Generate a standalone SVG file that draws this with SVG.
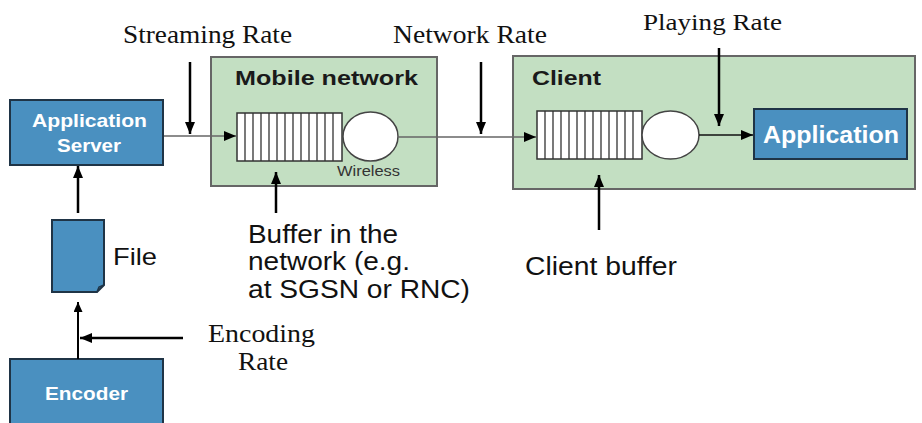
<svg xmlns="http://www.w3.org/2000/svg" width="922" height="423" viewBox="0 0 922 423">
  <defs>
    <marker id="head" viewBox="0 0 12 10" refX="12" refY="5" markerWidth="12" markerHeight="10" markerUnits="userSpaceOnUse" orient="auto">
      <path d="M0,0 L12,5 L0,10 Z" fill="#000"/>
    </marker>
    <marker id="headS" viewBox="0 0 10 9" refX="10" refY="4.5" markerWidth="10" markerHeight="9" markerUnits="userSpaceOnUse" orient="auto">
      <path d="M0,0 L10,4.5 L0,9 Z" fill="#000"/>
    </marker>
  </defs>
  <style>
    .blue { fill: #4a90c0; stroke: #1f3446; stroke-width: 2; }
    .green { fill: #c3dfc2; stroke: #666; stroke-width: 2; }
    .buf { fill: #fff; stroke: #333; stroke-width: 1.5; }
    .cells { stroke: #333; stroke-width: 1.3; fill: none; }
    .disc { fill: #fff; stroke: #444; stroke-width: 1.5; }
    .wlab { font-family: "Liberation Sans", Arial, sans-serif; font-weight: bold; fill: #fff; }
    .blab { font-family: "Liberation Sans", Arial, sans-serif; font-weight: bold; fill: #1a1a1a; }
    .sans { font-family: "Liberation Sans", Arial, sans-serif; fill: #111; }
    .serif { font-family: "Liberation Serif", "Times New Roman", serif; fill: #111; }
    .rate { stroke: #000; stroke-width: 2.5; fill: none; marker-end: url(#head); }
    .data { stroke: #666; stroke-width: 1.5; fill: none; }
    .flow { stroke: #000; stroke-width: 2; fill: none; marker-end: url(#headS); }
  </style>

  <!-- rate labels -->
  <g id="labels">
    <text class="serif" x="123" y="43" font-size="25" textLength="169" lengthAdjust="spacingAndGlyphs">Streaming Rate</text>
    <text class="serif" x="393" y="43" font-size="25" textLength="154" lengthAdjust="spacingAndGlyphs">Network Rate</text>
    <text class="serif" x="643" y="30" font-size="24" textLength="139" lengthAdjust="spacingAndGlyphs">Playing Rate</text>
    <text class="serif" x="208" y="342" font-size="25" textLength="107" lengthAdjust="spacingAndGlyphs">Encoding</text>
    <text class="serif" x="238" y="370" font-size="25" textLength="50" lengthAdjust="spacingAndGlyphs">Rate</text>
    <text class="sans" x="248" y="243" font-size="25" textLength="150" lengthAdjust="spacingAndGlyphs">Buffer in the</text>
    <text class="sans" x="248" y="270" font-size="25" textLength="162" lengthAdjust="spacingAndGlyphs">network (e.g.</text>
    <text class="sans" x="248" y="298" font-size="25" textLength="222" lengthAdjust="spacingAndGlyphs">at SGSN or RNC)</text>
    <text class="sans" x="525" y="275" font-size="25" textLength="152" lengthAdjust="spacingAndGlyphs">Client buffer</text>
  </g>

  <!-- mobile network -->
  <g id="mobile-network">
    <rect class="green" x="211" y="57" width="226" height="129"/>
    <text class="blab" x="235" y="85" font-size="21" textLength="183" lengthAdjust="spacingAndGlyphs">Mobile network</text>
    <rect class="buf" x="237" y="113" width="105" height="48"/>
    <path class="cells" d="M245,113V161M253,113V161M261,113V161M269,113V161M277,113V161M285,113V161M293,113V161M301,113V161M309,113V161M317,113V161M325,113V161M333,113V161"/>
    <ellipse class="disc" cx="370.5" cy="136.5" rx="27.5" ry="24.5"/>
    <text x="337" y="176" font-family="Liberation Sans, Arial, sans-serif" font-size="14" fill="#333" textLength="63" lengthAdjust="spacingAndGlyphs">Wireless</text>
  </g>

  <!-- client -->
  <g id="client">
    <rect class="green" x="513" y="56" width="402" height="133"/>
    <text class="blab" x="532" y="85" font-size="21" textLength="69" lengthAdjust="spacingAndGlyphs">Client</text>
    <rect class="buf" x="537" y="111" width="105" height="48"/>
    <path class="cells" d="M545,111V159M553,111V159M561,111V159M569,111V159M577,111V159M585,111V159M593,111V159M601,111V159M609,111V159M617,111V159M625,111V159M633,111V159"/>
    <ellipse class="disc" cx="670.5" cy="135" rx="28.5" ry="24"/>
  </g>

  <g id="application">
    <rect class="blue" x="754" y="109" width="153" height="50"/>
    <text class="wlab" x="763" y="143" font-size="23" textLength="136" lengthAdjust="spacingAndGlyphs">Application</text>
  </g>

  <g id="application-server">
    <rect class="blue" x="10" y="100" width="153" height="65"/>
    <text class="wlab" x="32" y="127" font-size="19" textLength="115" lengthAdjust="spacingAndGlyphs">Application</text>
    <text class="wlab" x="57" y="152" font-size="19" textLength="64" lengthAdjust="spacingAndGlyphs">Server</text>
  </g>

  <g id="file">
    <path d="M52,220 H104 V285 L97,292 H52 Z" fill="#4a90c0" stroke="#1f3446" stroke-width="2"/>
    <path d="M97,292 L99,287 L104,285" fill="none" stroke="#1f3446" stroke-width="1.5"/>
    <text class="sans" x="113" y="265" font-size="24" textLength="44" lengthAdjust="spacingAndGlyphs">File</text>
  </g>

  <g id="encoder">
    <rect class="blue" x="10" y="359" width="153" height="70"/>
    <text class="wlab" x="45" y="400" font-size="19" textLength="83" lengthAdjust="spacingAndGlyphs">Encoder</text>
  </g>

  <!-- connectors -->
  <g id="connectors">
    <!-- data path -->
    <line class="data" x1="164" y1="136" x2="236" y2="136" marker-end="url(#head)"/>
    <line class="data" x1="398" y1="137" x2="536" y2="137" marker-end="url(#head)"/>
    <line x1="699" y1="135" x2="753" y2="135" stroke="#111" stroke-width="1.5" marker-end="url(#head)"/>
    <!-- rate pointers -->
    <line class="rate" x1="190" y1="62" x2="190" y2="134"/>
    <line class="rate" x1="481" y1="62" x2="481" y2="134"/>
    <line class="rate" x1="719" y1="48" x2="719" y2="126"/>
    <line class="rate" x1="276" y1="213" x2="276" y2="172"/>
    <line class="rate" x1="599" y1="230" x2="599" y2="175"/>
    <!-- file chain -->
    <line class="rate" x1="78" y1="213" x2="78" y2="166"/>
    <line class="flow" x1="78" y1="359" x2="78" y2="302"/>
    <line class="rate" x1="183" y1="338" x2="80" y2="338"/>
  </g>
</svg>
